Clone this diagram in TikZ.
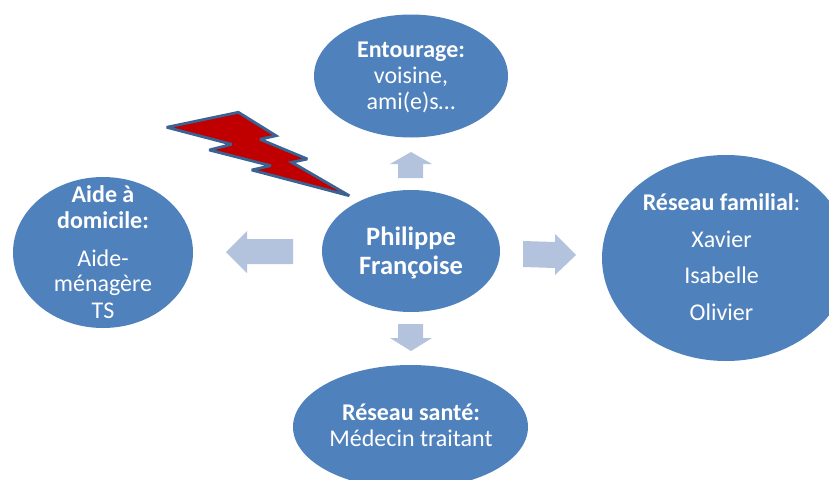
\documentclass[tikz,border=0pt]{standalone}
\usepackage{fontspec}
\setmainfont{Carlito}
\usetikzlibrary{shapes.geometric}
\definecolor{blobblue}{HTML}{4F81BD}
\definecolor{arrowblue}{HTML}{B3C2DD}
\definecolor{boltred}{HTML}{C00000}
\definecolor{boltedge}{HTML}{3A6292}
\tikzset{
  blob/.style={ellipse,fill=blobblue,draw=none,inner sep=0pt,minimum width=#1},
  lbl/.style={text=white,font=\fontsize{24}{24}\selectfont,inner sep=0pt,anchor=base},
  lblbig/.style={lbl,font=\fontsize{26.5}{26.5}\selectfont\bfseries},
  blockarrow/.style={fill=arrowblue,draw=none},
}
\begin{document}
\begin{tikzpicture}[x=1pt,y=-1pt]
\useasboundingbox (0,0) rectangle (829,479);
\clip (0,0) rectangle (829,479);
% ellipses
\node[blob=194pt,minimum height=123pt] (top) at (411,76) {};
\node[blob=180pt,minimum height=151pt] (left) at (103,252.5) {};
\node[blob=248pt,minimum height=206pt] (right) at (726,258) {};
\node[blob=235pt,minimum height=124pt] (bottom) at (410.5,427) {};
\node[blob=178pt,minimum height=122pt] (center) at (411,251) {};
% block arrows
\fill[blockarrow] (411,152) -- (432,164) -- (423,164) -- (423,178) -- (398,178) -- (398,164) -- (390,164) -- cycle;
\fill[blockarrow] (226,252) -- (247,231) -- (247,239) -- (293,239) -- (293,264) -- (247,264) -- (247,273) -- cycle;
\fill[blockarrow] (576,255) -- (555,234) -- (555,242) -- (523,241) -- (523,267) -- (555,268) -- (555,275) -- cycle;
\fill[blockarrow] (411,351) -- (432,338) -- (423,338) -- (423,324) -- (398,324) -- (398,338) -- (390,338) -- cycle;
% bolt
\draw[fill=boltred,draw=boltedge,line width=2.8pt,line join=miter,miter limit=3]
 (166.7,127.3) -- (238.3,112.3) -- (276,135.7) -- (260,139.3) -- (307.3,159) -- (291.7,162.3) -- (349.3,195.7)
 -- (251.7,170) -- (270.7,165.7) -- (209.3,150) -- (231.7,144.3) -- cycle;
% labels
\node[lbl] (t1) at (411,57) {\textbf{Entourage:}};
\node[lbl] (t2) at (411,83) {voisine,};
\node[lbl] (t3) at (411,109) {ami(e)s…};
\node[lbl] (l1) at (103,202) {\textbf{Aide à}};
\node[lbl] (l2) at (103,228) {\textbf{domicile:}};
\node[lbl] (l3) at (103,266) {Aide-};
\node[lbl] (l4) at (103,291) {ménagère};
\node[lbl] (l5) at (103,318) {TS};
\node[lbl] (r1) at (721.5,210) {\textbf{Réseau familial}:};
\node[lbl] (r2) at (721.5,247) {Xavier};
\node[lbl] (r3) at (721.5,283) {Isabelle};
\node[lbl] (r4) at (721.5,320) {Olivier};
\node[lbl] (b1) at (411,420) {\textbf{Réseau santé:}};
\node[lbl] (b2) at (411,446) {Médecin traitant};
\node[lblbig] (c1) at (411,245) {Philippe};
\node[lblbig] (c2) at (411,274) {Françoise};
\end{tikzpicture}
\end{document}
